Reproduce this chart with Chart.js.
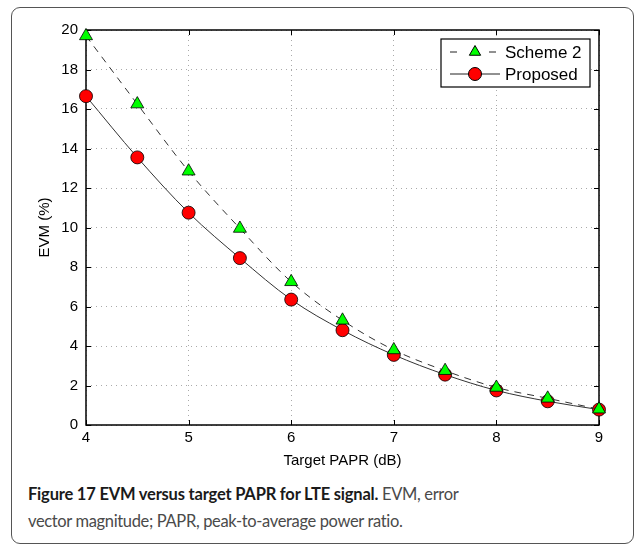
<!DOCTYPE html>
<html lang="en">
<head>
    <meta charset="UTF-8">
    <title>EVM versus target PAPR</title>
    <script src="https://cdn.jsdelivr.net/npm/chart.js"></script>
    <style>
        body { margin: 0; background: #fff; }
        #frame {
            position: absolute; left: 11px; top: 7px; width: 621px; height: 535px;
            border: 1.5px solid #555; border-radius: 9px;
        }
        #chartBox { position: absolute; left: 0; top: 0; width: 636px; height: 470px; }
        .caption {
            position: absolute; left: 28px; font-family: Lato, "Noto Sans", sans-serif;
            font-size: 16.5px; letter-spacing: -0.35px; color: #4a4a4a; white-space: nowrap;
        }
        .caption b { color: #1a1a1a; letter-spacing: -0.2px; }
    </style>
</head>
<body>
    <div id="frame"></div>
    <div id="chartBox"><canvas id="evmChart" width="636" height="470"></canvas></div>
    <div class="caption" style="top:484px"><b>Figure 17 EVM versus target PAPR for LTE signal.</b> EVM, error</div>
    <div class="caption" style="top:511px">vector magnitude; PAPR, peak-to-average power ratio.</div>

    <script>
        // Target PAPR in dB and EVM in percent for both schemes
        const papr = [4, 4.5, 5, 5.5, 6, 6.5, 7, 7.5, 8, 8.5, 9];
        const scheme2 = [19.7, 16.25, 12.85, 9.95, 7.25, 5.3, 3.8, 2.75, 1.9, 1.35, 0.8];
        const proposed = [16.65, 13.55, 10.75, 8.45, 6.35, 4.8, 3.55, 2.55, 1.75, 1.2, 0.78];
        const xTicks = [4, 5, 6, 7, 8, 9];
        const yTicks = [0, 2, 4, 6, 8, 10, 12, 14, 16, 18, 20];
        const seriesNames = ['Scheme 2', 'Proposed'];

        const tickFont = { family: '"Liberation Sans", Arial, sans-serif', size: 15 };

        // axes box with MATLAB-style inward ticks on all four sides
        const axesBox = {
            id: 'axesBox',
            beforeDatasetsDraw(chart) {
                const { ctx, chartArea: a, scales: { x, y } } = chart;
                ctx.save();
                ctx.strokeStyle = '#000';
                ctx.lineWidth = 1.5;
                ctx.strokeRect(a.left, a.top, a.right - a.left, a.bottom - a.top);
                ctx.lineWidth = 1;
                ctx.beginPath();
                xTicks.forEach(v => {
                    const px = Math.round(x.getPixelForValue(v)) + 0.5;
                    ctx.moveTo(px, a.bottom); ctx.lineTo(px, a.bottom - 5);
                    ctx.moveTo(px, a.top); ctx.lineTo(px, a.top + 5);
                });
                yTicks.forEach(v => {
                    const py = Math.round(y.getPixelForValue(v)) + 0.5;
                    ctx.moveTo(a.left, py); ctx.lineTo(a.left + 5, py);
                    ctx.moveTo(a.right, py); ctx.lineTo(a.right - 5, py);
                });
                ctx.stroke();
                ctx.restore();
            }
        };

        // boxed legend inside the upper right corner
        const boxLegend = {
            id: 'boxLegend',
            afterDatasetsDraw(chart) {
                const { ctx } = chart;
                const left = 441, top = 39, w = 149, h = 48;
                ctx.save();
                ctx.fillStyle = '#fff';
                ctx.fillRect(left, top, w, h);
                ctx.strokeStyle = '#000';
                ctx.lineWidth = 1.2;
                ctx.strokeRect(left, top, w, h);
                ctx.font = '17px "Liberation Sans", Arial, sans-serif';
                ctx.textBaseline = 'middle';
                chart.data.datasets.forEach((ds, i) => {
                    const cy = top + 13 + i * 22;
                    ctx.strokeStyle = '#222';
                    ctx.lineWidth = 1;
                    ctx.setLineDash(ds.borderDash || []);
                    ctx.beginPath();
                    ctx.moveTo(450, cy); ctx.lineTo(500, cy);
                    ctx.stroke();
                    ctx.setLineDash([]);
                    if (i === 0) {
                        ctx.fillStyle = '#fff';
                        ctx.fillRect(462, cy - 8, 24, 16);
                    }
                    ctx.fillStyle = ds.pointBackgroundColor;
                    ctx.strokeStyle = '#000';
                    ctx.beginPath();
                    if (ds.pointStyle === 'triangle') {
                        const r = ds.pointRadius - 1;
                        ctx.moveTo(475, cy - r);
                        ctx.lineTo(475 + r * 0.866, cy + r * 0.5);
                        ctx.lineTo(475 - r * 0.866, cy + r * 0.5);
                        ctx.closePath();
                    } else {
                        ctx.arc(475, cy, ds.pointRadius, 0, Math.PI * 2);
                    }
                    ctx.fill(); ctx.stroke();
                    ctx.fillStyle = '#000';
                    ctx.fillText(ds.label, 505, cy + 1);
                });
                ctx.restore();
            }
        };

        new Chart(document.getElementById('evmChart'), {
            type: 'line',
            data: {
                datasets: [{
                    label: seriesNames[0],
                    data: papr.map((p, i) => ({ x: p, y: scheme2[i] })),
                    borderColor: '#333',
                    borderWidth: 1,
                    borderDash: [7, 6],
                    cubicInterpolationMode: 'monotone',
                    pointStyle: 'triangle',
                    pointRadius: 7.5,
                    pointBackgroundColor: '#00ff00',
                    pointBorderColor: '#000',
                    pointBorderWidth: 0.8,
                    clip: false
                }, {
                    label: seriesNames[1],
                    data: papr.map((p, i) => ({ x: p, y: proposed[i] })),
                    borderColor: '#333',
                    borderWidth: 1,
                    cubicInterpolationMode: 'monotone',
                    pointStyle: 'circle',
                    pointRadius: 6.5,
                    pointBackgroundColor: '#ff0000',
                    pointBorderColor: '#000',
                    pointBorderWidth: 0.8,
                    clip: false
                }]
            },
            options: {
                responsive: false,
                animation: false,
                layout: { padding: { left: 0, right: 37, top: 30, bottom: 0 } },
                plugins: { legend: { display: false }, tooltip: { enabled: false } },
                scales: {
                    x: {
                        type: 'linear', min: 4, max: 9,
                        afterBuildTicks: s => { s.ticks = xTicks.map(v => ({ value: v })); },
                        afterFit: s => { s.height = 45; },
                        grid: { color: '#aaa', drawTicks: false },
                        border: { display: false, dash: [1, 4] },
                        ticks: { font: tickFont, color: '#000', padding: 4 },
                        title: {
                            display: true, text: 'Target PAPR (dB)', font: tickFont,
                            color: '#000', padding: { top: 0, bottom: 0 }
                        }
                    },
                    y: {
                        min: 0, max: 20,
                        afterBuildTicks: s => { s.ticks = yTicks.map(v => ({ value: v })); },
                        afterFit: s => { s.width = 86; },
                        grid: { color: '#aaa', drawTicks: false },
                        border: { display: false, dash: [1, 4] },
                        ticks: { font: tickFont, color: '#000', padding: 8 },
                        title: {
                            display: true, text: 'EVM (%)', font: tickFont,
                            color: '#000', padding: { top: 36, bottom: 0 }
                        }
                    }
                }
            },
            plugins: [axesBox, boxLegend]
        });
    </script>
</body>
</html>
